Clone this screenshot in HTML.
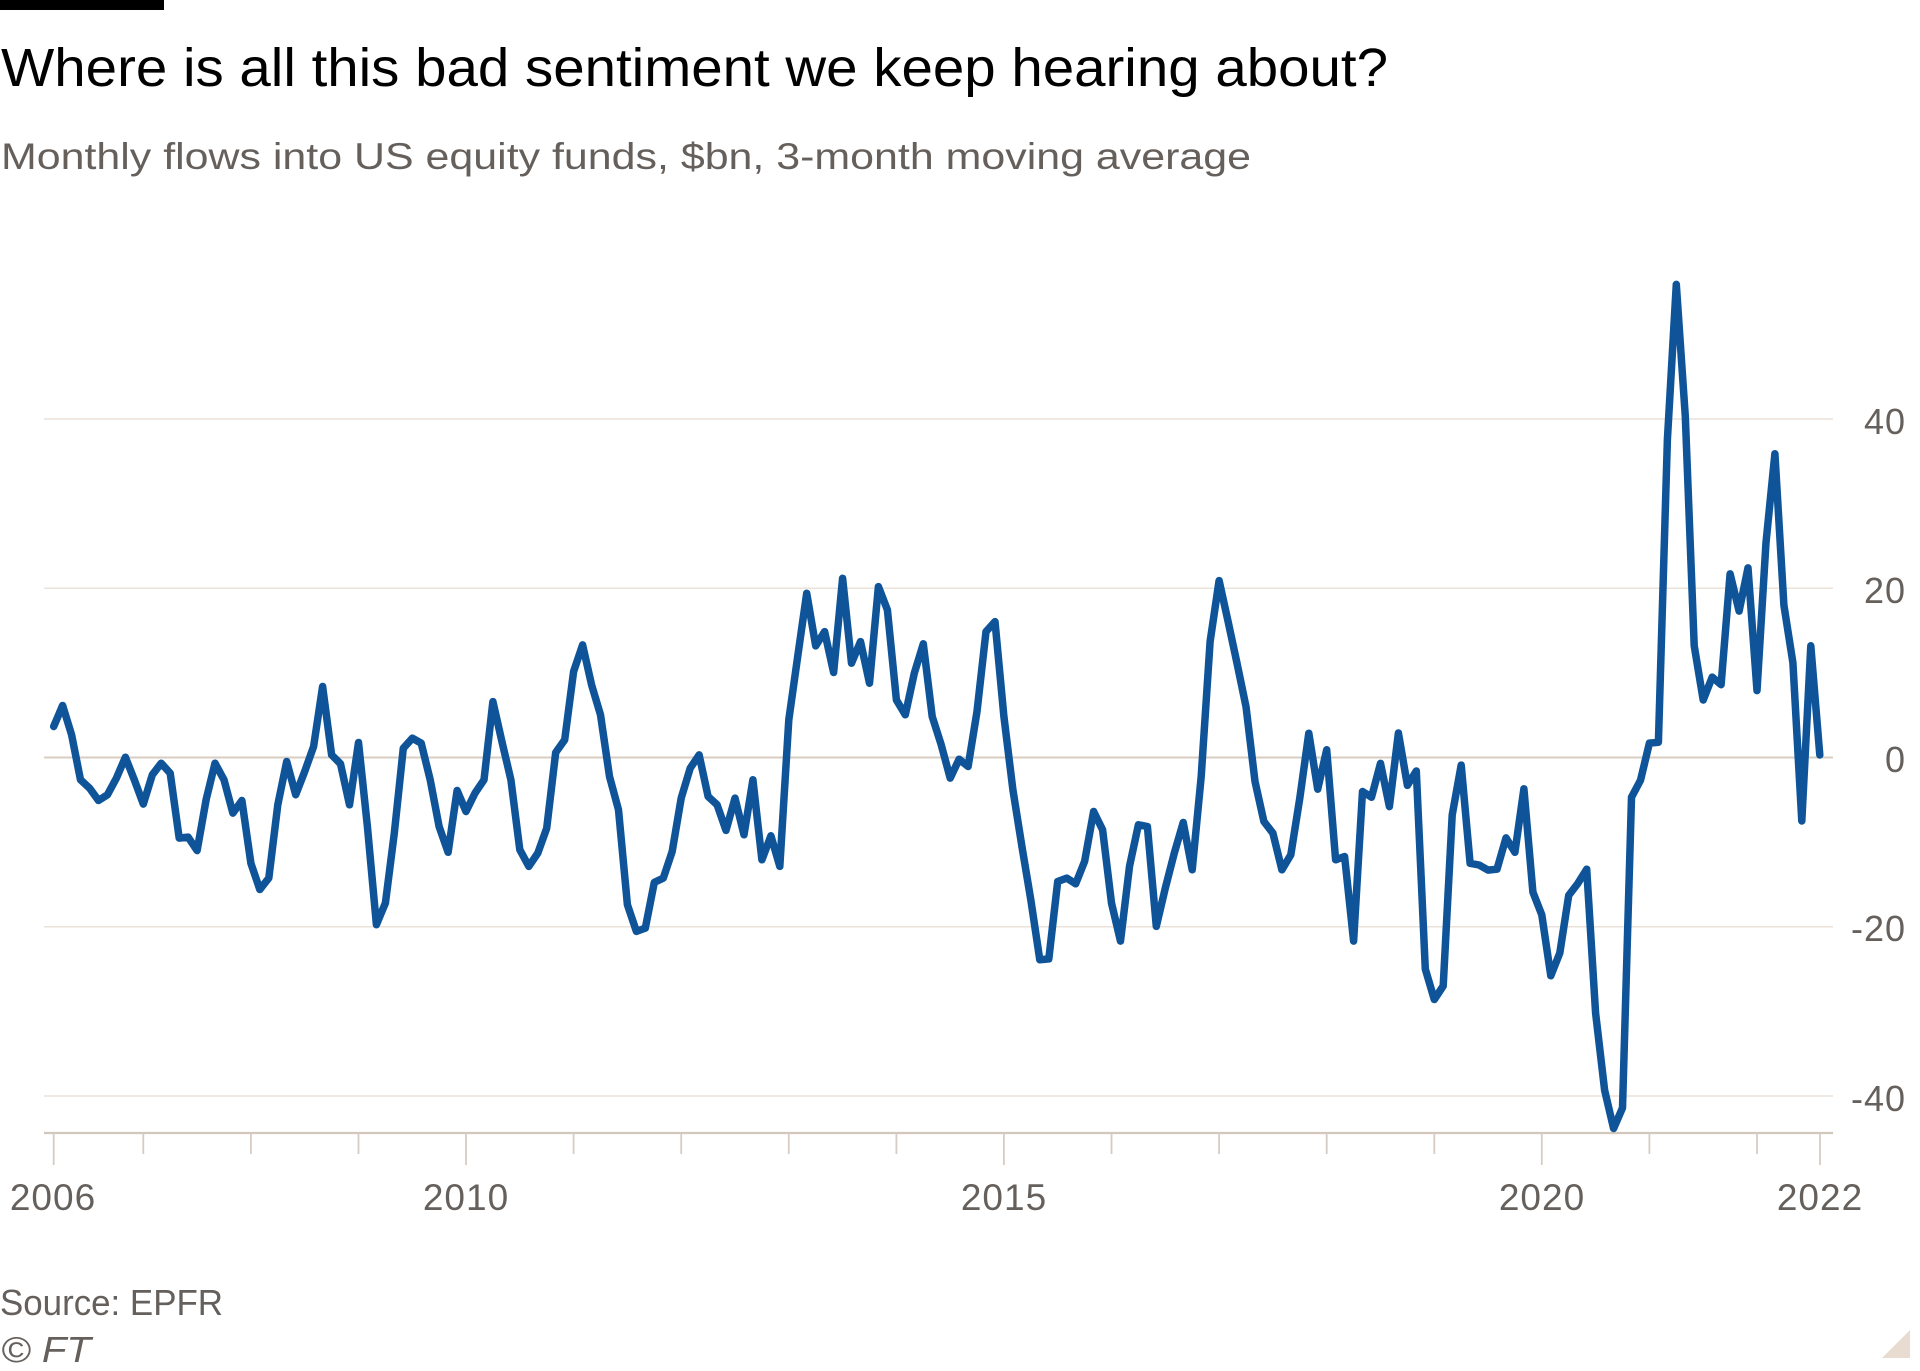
<!DOCTYPE html>
<html>
<head>
<meta charset="utf-8">
<style>
  html, body { margin: 0; padding: 0; background: #ffffff; }
  svg { display: block; }
  text { font-family: "Liberation Sans", "DejaVu Sans", sans-serif; }
</style>
</head>
<body>
<svg width="1920" height="1371" viewBox="0 0 1920 1371" xmlns="http://www.w3.org/2000/svg">
  <rect x="0" y="0" width="1920" height="1371" fill="#ffffff"/>
  <!-- top bar -->
  <rect x="0" y="0" width="164" height="10" fill="#000000"/>
  <!-- title & subtitle -->
  <text x="1" y="86" font-size="54" fill="#000000" textLength="1387" lengthAdjust="spacingAndGlyphs">Where is all this bad sentiment we keep hearing about?</text>
  <text x="1" y="169" font-size="37" fill="#66605c" textLength="1250" lengthAdjust="spacingAndGlyphs">Monthly flows into US equity funds, $bn, 3-month moving average</text>

  <!-- gridlines -->
  <g stroke="#ebe2da" stroke-width="1.6">
    <line x1="44" y1="419" x2="1833" y2="419"/>
    <line x1="44" y1="588.25" x2="1833" y2="588.25"/>
    <line x1="44" y1="926.75" x2="1833" y2="926.75"/>
    <line x1="44" y1="1096" x2="1833" y2="1096"/>
  </g>
  <line x1="44" y1="757.5" x2="1833" y2="757.5" stroke="#d9cdc2" stroke-width="2"/>
  <!-- axis -->
  <line x1="44" y1="1133" x2="1833" y2="1133" stroke="#d2c7bd" stroke-width="2.2"/>
  <!-- ticks -->
  <g stroke="#d6ccc3" stroke-width="1.8">
    <line x1="53.7" y1="1133" x2="53.7" y2="1165"/>
    <line x1="143.3" y1="1133" x2="143.3" y2="1154"/>
    <line x1="250.9" y1="1133" x2="250.9" y2="1154"/>
    <line x1="358.5" y1="1133" x2="358.5" y2="1154"/>
    <line x1="466.0" y1="1133" x2="466.0" y2="1165"/>
    <line x1="573.6" y1="1133" x2="573.6" y2="1154"/>
    <line x1="681.2" y1="1133" x2="681.2" y2="1154"/>
    <line x1="788.8" y1="1133" x2="788.8" y2="1154"/>
    <line x1="896.4" y1="1133" x2="896.4" y2="1154"/>
    <line x1="1003.9" y1="1133" x2="1003.9" y2="1165"/>
    <line x1="1111.5" y1="1133" x2="1111.5" y2="1154"/>
    <line x1="1219.1" y1="1133" x2="1219.1" y2="1154"/>
    <line x1="1326.7" y1="1133" x2="1326.7" y2="1154"/>
    <line x1="1434.3" y1="1133" x2="1434.3" y2="1154"/>
    <line x1="1541.8" y1="1133" x2="1541.8" y2="1165"/>
    <line x1="1649.4" y1="1133" x2="1649.4" y2="1154"/>
    <line x1="1757.0" y1="1133" x2="1757.0" y2="1154"/>
    <line x1="1820" y1="1133" x2="1820" y2="1165"/>
  </g>

  <!-- y labels -->
  <g font-size="36" fill="#66605c" text-anchor="end" letter-spacing="1">
    <text x="1906" y="434">40</text>
    <text x="1906" y="603">20</text>
    <text x="1906" y="772">0</text>
    <text x="1906" y="941">-20</text>
    <text x="1906" y="1111">-40</text>
  </g>
  <!-- x labels -->
  <g font-size="37" fill="#66605c" text-anchor="middle" letter-spacing="1">
    <text x="53" y="1210">2006</text>
    <text x="466" y="1210">2010</text>
    <text x="1004" y="1210">2015</text>
    <text x="1542" y="1210">2020</text>
    <text x="1820" y="1210">2022</text>
  </g>

  <!-- series -->
  <polyline fill="none" stroke="#0f5499" stroke-width="7.5" stroke-linejoin="round" stroke-linecap="round" points="
53.7,726.5 62.6,705.5 71.6,734.8 80.5,779.8 89.5,788.1 98.5,800.5 107.4,794.8 116.4,778.1 125.4,757.2 134.3,779.8
143.3,804.1 152.3,774.8 161.2,763.2 170.2,773.2 179.2,838.1 188.1,837.1 197.1,850.6 206.1,799.8 215.0,763.2 224.0,779.8
232.9,813.1 241.9,800.5 250.9,863.3 259.8,889.5 268.8,878.1 277.8,804.8 286.7,761.5 295.7,794.8 304.7,771.5 313.6,746.5
322.6,686.5 331.6,754.9 340.5,763.8 349.5,804.8 358.5,742.5 367.4,826.5 376.4,924.7 385.4,903.1 394.3,833.2 403.3,748.2
412.3,738.2 421.2,743.2 430.2,779.8 439.1,826.5 448.1,852.3 457.1,790.5 466.0,811.5 475.0,793.1 484.0,779.8 492.9,701.6
501.9,741.5 510.9,779.8 519.8,849.7 528.8,866.4 537.8,853.1 546.7,828.2 555.7,752.5 564.7,739.8 573.6,671.5 582.6,644.9
591.6,684.9 600.5,714.8 609.5,776.5 618.5,809.8 627.4,904.7 636.4,931.4 645.3,928.1 654.3,882.4 663.3,878.1 672.2,851.4
681.2,798.1 690.2,768.2 699.1,754.9 708.1,796.5 717.1,804.8 726.0,830.4 735.0,798.1 744.0,834.8 752.9,779.8 761.9,859.8
770.9,835.8 779.8,866.4 788.8,719.8 797.7,656.5 806.7,593.3 815.7,645.9 824.6,631.6 833.6,672.5 842.6,578.3 851.5,663.2
860.5,641.6 869.5,683.2 878.4,586.6 887.4,609.9 896.4,699.9 905.3,714.8 914.3,673.2 923.3,643.8 932.2,716.5 941.2,744.8
950.2,778.1 959.1,759.2 968.1,766.5 977.0,711.5 986.0,631.6 995.0,621.6 1003.9,716.5 1012.9,789.8 1021.9,846.4 1030.8,899.7
1039.8,959.8 1048.8,958.9 1057.7,881.5 1066.7,878.1 1075.7,883.8 1084.6,861.4 1093.6,811.5 1102.6,829.8 1111.5,903.1 1120.5,941.1
1129.5,866.4 1138.4,824.8 1147.4,826.5 1156.3,926.4 1165.3,888.1 1174.3,853.1 1183.2,822.5 1192.2,869.8 1201.2,776.5 1210.1,641.6
1219.1,580.6 1228.1,621.6 1237.0,663.2 1246.0,706.6 1255.0,781.4 1263.9,821.5 1272.9,833.2 1281.9,869.8 1290.8,854.8 1299.8,798.1
1308.8,733.2 1317.7,789.2 1326.7,749.8 1335.6,859.8 1344.6,856.5 1353.6,941.1 1362.5,791.5 1371.5,797.2 1380.5,763.4 1389.4,806.6
1398.4,733.0 1407.4,785.4 1416.3,771.0 1425.3,969.1 1434.3,999.5 1443.2,986.0 1452.2,815.0 1461.2,765.1 1470.1,863.3 1479.1,865.0
1488.1,870.1 1497.0,869.2 1506.0,837.9 1514.9,852.3 1523.9,788.8 1532.9,892.1 1541.8,914.9 1550.8,975.8 1559.8,953.0 1568.7,895.4
1577.7,883.6 1586.7,869.2 1595.6,1013.1 1604.6,1090.1 1613.6,1128.5 1622.5,1107.9 1631.5,797.3 1640.5,780.3 1649.4,743.1 1658.4,742.3
1667.4,439.3 1676.3,284.4 1685.3,416.4 1694.2,645.8 1703.2,700.0 1712.2,677.1 1721.1,684.7 1730.1,573.9 1739.1,611.1 1748.0,567.9
1757.0,690.6 1766.0,542.5 1774.9,453.7 1783.9,605.2 1792.9,662.7 1801.8,821.0 1810.8,645.8 1819.8,755.0"/>

  <!-- footer -->
  <text x="0" y="1315" font-size="36" fill="#66605c" textLength="223" lengthAdjust="spacingAndGlyphs">Source: EPFR</text>
  <text x="1" y="1362" font-size="36" font-style="italic" fill="#66605c" textLength="90" lengthAdjust="spacingAndGlyphs">© FT</text>

  <!-- corner fold -->
  <polygon points="1910,1330 1910,1358 1882,1358" fill="#e8dcd1"/>
</svg>
</body>
</html>
